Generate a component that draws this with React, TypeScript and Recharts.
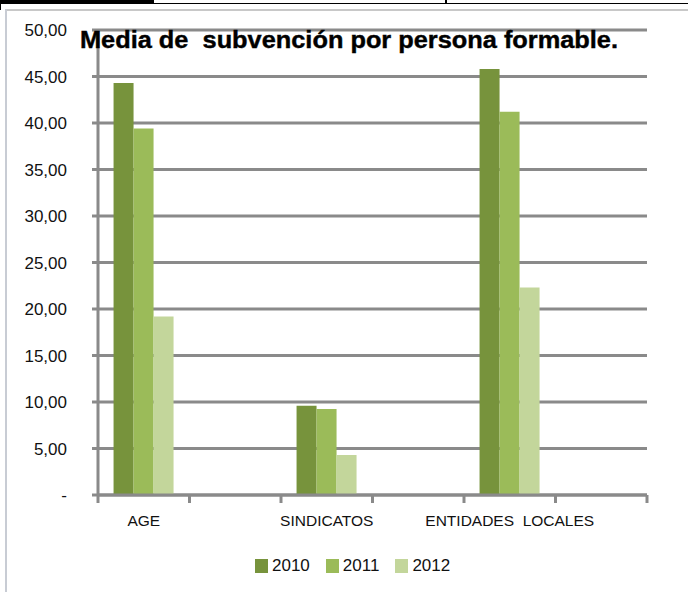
import { BarChart, Bar, XAxis, YAxis, CartesianGrid } from 'recharts'

const categories = ['AGE', '', 'SINDICATOS', '', 'ENTIDADES  LOCALES', '']
const years = ['2010', '2011', '2012']
const values2010 = [44.3, null, 9.6, null, 45.8, null]
const values2011 = [39.4, null, 9.25, null, 41.2, null]
const values2012 = [19.2, null, 4.3, null, 22.3, null]
const yTicks = [0, 5, 10, 15, 20, 25, 30, 35, 40, 45, 50]
const title = 'Media de  subvención por persona formable.'

const colors = ['#77933C', '#9BBB59', '#C3D69B']

const data = categories.map((name, i) => ({
  name,
  '2010': values2010[i],
  '2011': values2011[i],
  '2012': values2012[i],
}))

const W = 688
const H = 592
const margin = { top: 30, right: 41, bottom: 57, left: 0 }
const yAxisWidth = 98
const plotW = W - margin.right - yAxisWidth
const font = '"Liberation Sans", Arial, sans-serif'
const gridColor = '#8a8a8a'

const fmtY = (v: number) => (v === 0 ? '-' : v.toFixed(2).replace('.', ','))

function XTick(props: any) {
  const { x, y, payload, index } = props
  const bw = plotW / categories.length
  const last = index === categories.length - 1
  return (
    <g>
      <line x1={x - bw / 2} y1={y} x2={x - bw / 2} y2={y + 8} stroke={gridColor} strokeWidth={3} />
      {last && <line x1={x + bw / 2} y1={y} x2={x + bw / 2} y2={y + 8} stroke={gridColor} strokeWidth={3} />}
      <text x={x} y={y + 31} textAnchor="middle" fill="#111" fontSize={15.5} fontFamily={font} style={{ whiteSpace: 'pre' }}>
        {payload.value}
      </text>
    </g>
  )
}

export default function App() {
  return (
    <div style={{ position: 'absolute', left: 0, top: 0, width: W, height: H, background: '#fff', overflow: 'hidden' }}>
      {/* spreadsheet bits above the chart */}
      <div style={{ position: 'absolute', left: 0, top: 0, width: 152, height: 3, background: '#000' }} />
      <div style={{ position: 'absolute', left: 0, top: 3, width: W, height: 1, background: '#000' }} />
      <div style={{ position: 'absolute', left: 152, top: 0, width: 2, height: 4, background: '#000' }} />
      <div style={{ position: 'absolute', left: 445, top: 0, width: 2, height: 4, background: '#000' }} />
      <div style={{ position: 'absolute', left: 0, top: 0, width: 1, height: 10, background: '#000' }} />
      <div style={{ position: 'absolute', left: 5, top: 9, width: W, height: 2, background: '#c8c8c8' }} />
      <div style={{ position: 'absolute', left: 5, top: 9, width: 2, height: H, background: '#c8ccd4' }} />

      <BarChart width={W} height={H} data={data} margin={margin} barCategoryGap="17%" barGap={0}>
        <CartesianGrid vertical={false} stroke={gridColor} strokeWidth={3} />
        <XAxis
          dataKey="name"
          height={40}
          tickSize={0}
          tickMargin={0}
          tickLine={false}
          axisLine={{ stroke: gridColor, strokeWidth: 3 }}
          tick={<XTick />}
          interval={0}
        />
        <YAxis
          width={yAxisWidth}
          domain={[0, 50]}
          ticks={yTicks}
          tickFormatter={fmtY}
          tickSize={6}
          tickMargin={25}
          axisLine={{ stroke: gridColor, strokeWidth: 3 }}
          tickLine={{ stroke: gridColor, strokeWidth: 3 }}
          tick={{ fill: '#111', fontSize: 17, fontFamily: font }}
        />
        {years.map((y, i) => (
          <Bar key={y} dataKey={y} fill={colors[i]} isAnimationActive={false} />
        ))}
      </BarChart>

      <svg width={W} height={H} style={{ position: 'absolute', left: 0, top: 0, pointerEvents: 'none' }}>
        <text x={80} y={48} fontSize={23} fontWeight="bold" fontFamily={font} fill="#000" stroke="#000" strokeWidth={0.4} textLength={538} lengthAdjust="spacingAndGlyphs" style={{ whiteSpace: 'pre' }}>
          {title}
        </text>
      </svg>

      <div style={{ position: 'absolute', left: 255, top: 556, display: 'flex', alignItems: 'center', fontFamily: font, fontSize: 17, color: '#111' }}>
        {years.map((y, i) => (
          <div key={y} style={{ display: 'flex', alignItems: 'center', marginRight: i < years.length - 1 ? 16 : 0 }}>
            <span style={{ width: 13, height: 14, background: colors[i], display: 'inline-block', marginRight: 4 }} />
            <span>{y}</span>
          </div>
        ))}
      </div>
    </div>
  )
}
